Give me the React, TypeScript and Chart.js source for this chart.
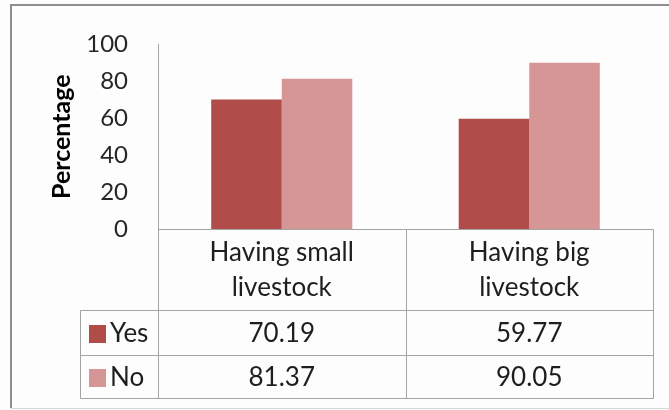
import React, { useEffect, useRef } from "react";
import { Chart, registerables } from "chart.js";

Chart.register(...registerables);

// Chart data
const categories: string[][] = [
  ["Having small", "livestock"],
  ["Having big", "livestock"],
];
const seriesNames = ["Yes", "No"];
const yesValues = [70.19, 59.77];
const noValues = [81.37, 90.05];
const yTicks = [0, 20, 40, 60, 80, 100];
const seriesColors = ["#b04d4b", "#d59695"];

const FONT = "Lato, 'Open Sans', sans-serif";
const LINE = "#a3a3a3";

// Paints the page background and the outer frame
const framePlugin = {
  id: "frame",
  beforeDraw(chart: Chart) {
    const { ctx, width, height } = chart;
    ctx.save();
    ctx.fillStyle = "#fdfdfd";
    ctx.fillRect(0, 0, width, height);
    ctx.strokeStyle = "#8e8e8e";
    ctx.lineWidth = 2;
    ctx.beginPath();
    ctx.moveTo(width, 5);
    ctx.lineTo(11, 5);
    ctx.lineTo(11, height - 2);
    ctx.stroke();
    ctx.strokeStyle = "#d8d8d8";
    ctx.lineWidth = 1;
    ctx.beginPath();
    ctx.moveTo(11, height - 1.5);
    ctx.lineTo(width, height - 1.5);
    ctx.stroke();
    ctx.restore();
  },
};

// Data table under the plot: category header row plus one row per series
const dataTablePlugin = {
  id: "dataTable",
  afterDraw(chart: Chart) {
    const { ctx, chartArea } = chart;
    const xScale = chart.scales.x;
    const n = categories.length;
    const colW = (chartArea.right - chartArea.left) / n;
    const top = Math.round(chartArea.bottom) + 0.5;
    const headerBottom = top + 81;
    const rowH = [45, 43];
    const legendLeft = 80.5;
    const left = Math.round(chartArea.left) + 0.5;
    const right = Math.round(chartArea.right) + 0.5;
    const rowTops = [headerBottom, headerBottom + rowH[0]];
    const bottom = headerBottom + rowH[0] + rowH[1];

    ctx.save();
    ctx.strokeStyle = LINE;
    ctx.lineWidth = 1;
    ctx.beginPath();
    // horizontal rules
    ctx.moveTo(left, top);
    ctx.lineTo(right, top);
    for (const y of [headerBottom, rowTops[1], bottom]) {
      ctx.moveTo(legendLeft, y);
      ctx.lineTo(right, y);
    }
    // vertical rules
    ctx.moveTo(legendLeft, headerBottom);
    ctx.lineTo(legendLeft, bottom);
    ctx.moveTo(left, top);
    ctx.lineTo(left, bottom);
    for (let i = 1; i <= n; i++) {
      const x = Math.round(chartArea.left + colW * i) + 0.5;
      ctx.moveTo(x, top);
      ctx.lineTo(x, bottom);
    }
    ctx.stroke();

    ctx.fillStyle = "#1e1e1e";
    ctx.font = `26px ${FONT}`;
    ctx.textAlign = "center";
    ctx.textBaseline = "middle";

    // category headers
    categories.forEach((lines, i) => {
      const cx = xScale.getPixelForValue(i);
      const cy = (top + headerBottom) / 2;
      ctx.fillText(lines[0], cx, cy - 17);
      ctx.fillText(lines[1], cx, cy + 18);
    });

    // series rows
    const rows = [yesValues, noValues];
    rows.forEach((vals, r) => {
      const cy = rowTops[r] + rowH[r] / 2 + 1;
      ctx.fillStyle = seriesColors[r];
      ctx.fillRect(89, cy - 9, 17, 18);
      ctx.fillStyle = "#1e1e1e";
      ctx.textAlign = "left";
      ctx.fillText(seriesNames[r], 110, cy);
      ctx.textAlign = "center";
      vals.forEach((v, i) => {
        ctx.fillText(v.toFixed(2), xScale.getPixelForValue(i), cy);
      });
    });
    ctx.restore();
  },
};

export default function App() {
  const canvasRef = useRef<HTMLCanvasElement | null>(null);

  useEffect(() => {
    if (!canvasRef.current) return;
    const chart = new Chart(canvasRef.current, {
      type: "bar",
      data: {
        labels: categories,
        datasets: [
          {
            label: seriesNames[0],
            data: yesValues,
            backgroundColor: seriesColors[0],
            categoryPercentage: 0.57,
            barPercentage: 1.0,
          },
          {
            label: seriesNames[1],
            data: noValues,
            backgroundColor: seriesColors[1],
            categoryPercentage: 0.57,
            barPercentage: 1.0,
          },
        ],
      },
      options: {
        animation: false,
        responsive: true,
        maintainAspectRatio: false,
        layout: { padding: { left: 0, top: 34, right: 16, bottom: 181 } },
        plugins: {
          legend: { display: false },
          tooltip: { enabled: false },
          title: { display: false },
        },
        scales: {
          x: { display: false },
          y: {
            min: 0,
            max: 100,
            afterBuildTicks: (scale: any) => {
              scale.ticks = yTicks.map((v) => ({ value: v }));
            },
            afterFit: (scale: any) => {
              scale.width = 158;
            },
            grid: { display: false, drawTicks: false },
            border: { display: true, color: LINE, width: 1 },
            ticks: {
              padding: 30,
              color: "#262626",
              font: { family: FONT, size: 24 },
            },
            title: {
              display: true,
              text: "Percentage",
              color: "#000",
              font: { family: FONT, size: 25, weight: "bold" },
              padding: { top: 47, bottom: 0 },
            },
          },
        },
      },
      plugins: [framePlugin, dataTablePlugin],
    });
    return () => chart.destroy();
  }, []);

  return (
    <div
      style={{
        position: "absolute",
        left: 0,
        top: 0,
        width: 669,
        height: 410,
      }}
    >
      <canvas ref={canvasRef} />
    </div>
  );
}
